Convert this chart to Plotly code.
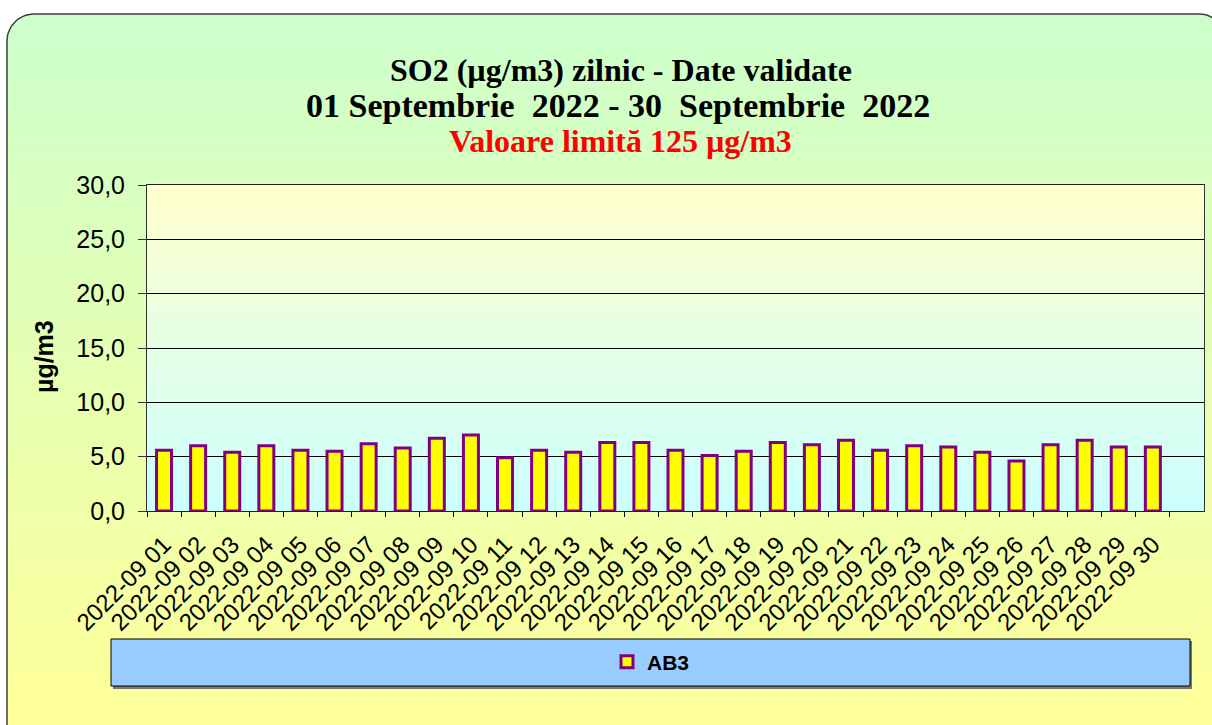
import numpy as np
import plotly.graph_objects as go

W, H = 1212, 725

dates = ["2022-09 01", "2022-09 02", "2022-09 03", "2022-09 04", "2022-09 05",
         "2022-09 06", "2022-09 07", "2022-09 08", "2022-09 09", "2022-09 10",
         "2022-09 11", "2022-09 12", "2022-09 13", "2022-09 14", "2022-09 15",
         "2022-09 16", "2022-09 17", "2022-09 18", "2022-09 19", "2022-09 20",
         "2022-09 21", "2022-09 22", "2022-09 23", "2022-09 24", "2022-09 25",
         "2022-09 26", "2022-09 27", "2022-09 28", "2022-09 29", "2022-09 30"]
ab3 = [5.6, 6.0, 5.4, 6.0, 5.6, 5.5, 6.2, 5.8, 6.7, 7.0,
       4.9, 5.6, 5.4, 6.3, 6.3, 5.6, 5.1, 5.5, 6.3, 6.1,
       6.5, 5.6, 6.0, 5.9, 5.4, 4.6, 6.1, 6.5, 5.9, 5.9]
y_ticks = [0, 5, 10, 15, 20, 25, 30]

# plot area in pixels
PL, PR, PT, PB = 147, 1204, 185, 511


def px(x):
    return x / W


def py(y):
    return 1 - y / H


def rounded_rect(x0, y0, x1, y1, r, n=16):
    xs, ys = [], []
    corners = [(x1 - r, y0 + r, -90, 0), (x1 - r, y1 - r, 0, 90),
               (x0 + r, y1 - r, 90, 180), (x0 + r, y0 + r, 180, 270)]
    for cx, cy, a0, a1 in corners:
        t = np.radians(np.linspace(a0, a1, n))
        xs += list(cx + r * np.cos(t))
        ys += list(cy + r * np.sin(t))
    xs.append(xs[0])
    ys.append(ys[0])
    return xs, ys


fig = go.Figure()

ox, oy = rounded_rect(7, 14, 1226, 760, 27)
fig.add_trace(go.Scatter(
    x=ox, y=[H - v for v in oy], mode="lines", fill="toself",
    line=dict(color="#404040", width=1.5),
    fillgradient=dict(type="vertical", colorscale=[[0, "#FFFF99"], [1, "#CCFFCC"]],
                      start=0, stop=H - 14),
    hoverinfo="skip", showlegend=False, xaxis="x", yaxis="y"))

fig.add_trace(go.Scatter(
    x=[PL, PR, PR, PL, PL], y=[H - PB, H - PB, H - PT, H - PT, H - PB],
    mode="lines", fill="toself", line=dict(width=0, color="rgba(0,0,0,0)"),
    fillgradient=dict(type="vertical", colorscale=[[0, "#CCFFFF"], [1, "#FFFFCC"]],
                      start=H - PB, stop=H - PT),
    hoverinfo="skip", showlegend=False, xaxis="x", yaxis="y"))

fig.add_trace(go.Bar(
    x=dates, y=ab3, name="AB3", xaxis="x2", yaxis="y2",
    width=0.44,
    marker=dict(color="#FFFF00", line=dict(color="#800080", width=3))))

font_sans = "Liberation Sans, Arial, sans-serif"
font_serif = "Liberation Serif, Times New Roman, serif"

fig.update_layout(
    template="none",
    width=W, height=H,
    margin=dict(l=0, r=0, t=0, b=0, pad=0, autoexpand=False),
    paper_bgcolor="white",
    plot_bgcolor="rgba(0,0,0,0)",
    separators=",.",
    bargap=0.56,
    xaxis=dict(domain=[0, 1], range=[0, W], visible=False, fixedrange=True,
               automargin=False),
    yaxis=dict(domain=[0, 1], range=[0, H], visible=False, fixedrange=True,
               automargin=False),
    xaxis2=dict(domain=[px(PL), px(PR)], anchor="y2", type="category",
                range=[-0.5, 30.5], tickson="boundaries", ticks="outside",
                ticklen=5, tickcolor="black", tickangle=-45, automargin=False,
                ticklabelstandoff=9,
                tickfont=dict(family=font_sans, size=24, color="black"),
                showgrid=False, showline=True, linecolor="#222", linewidth=1,
                mirror=True, zeroline=False),
    yaxis2=dict(domain=[py(PB), py(PT)], anchor="x2", range=[0, 30],
                tickvals=y_ticks, tickformat=".1f", ticks="outside", ticklen=8,
                tickcolor="#333", ticklabelstandoff=8, automargin=False,
                tickfont=dict(family=font_sans, size=25, color="black"),
                showgrid=True, gridcolor="black", gridwidth=1,
                showline=True, linecolor="#333", linewidth=1, mirror=True,
                zeroline=False),
    showlegend=True,
    legend=dict(x=px(651), y=py(662), xanchor="center", yanchor="middle",
                bgcolor="rgba(0,0,0,0)", borderwidth=0,
                font=dict(family=font_sans, size=21, color="black", weight="bold")),
    shapes=[
        dict(type="rect", xref="paper", yref="paper", x0=px(113), x1=px(1192),
             y0=py(689), y1=py(641), fillcolor="#777", line=dict(width=0),
             layer="above"),
        dict(type="rect", xref="paper", yref="paper", x0=px(111), x1=px(1190),
             y0=py(686), y1=py(639), fillcolor="#99CCFF",
             line=dict(color="black", width=1), layer="above"),
    ],
    annotations=[
        dict(text="<b>SO2 (µg/m3) zilnic - Date validate</b>", xref="paper", yref="paper",
             x=px(621), y=py(70), xanchor="center", yanchor="middle", showarrow=False,
             font=dict(family=font_serif, size=32, color="black")),
        dict(text="<b>01 Septembrie  2022 - 30  Septembrie  2022</b>", xref="paper",
             yref="paper", x=px(618), y=py(105), xanchor="center", yanchor="middle",
             showarrow=False, font=dict(family=font_serif, size=34, color="black")),
        dict(text="<b>Valoare limită 125 µg/m3</b>", xref="paper", yref="paper",
             x=px(620), y=py(141), xanchor="center", yanchor="middle", showarrow=False,
             font=dict(family=font_serif, size=32, color="#FF0000")),
        dict(text="<b>µg/m3</b>", xref="paper", yref="paper", x=px(44), y=py(357),
             xanchor="center", yanchor="middle", showarrow=False, textangle=-90,
             font=dict(family=font_sans, size=25, color="black")),
    ],
)

fig.write_html("out.html",
               config={"displayModeBar": False},
               post_script="document.body.style.margin='0px';"
                           "document.body.style.overflow='hidden';")
